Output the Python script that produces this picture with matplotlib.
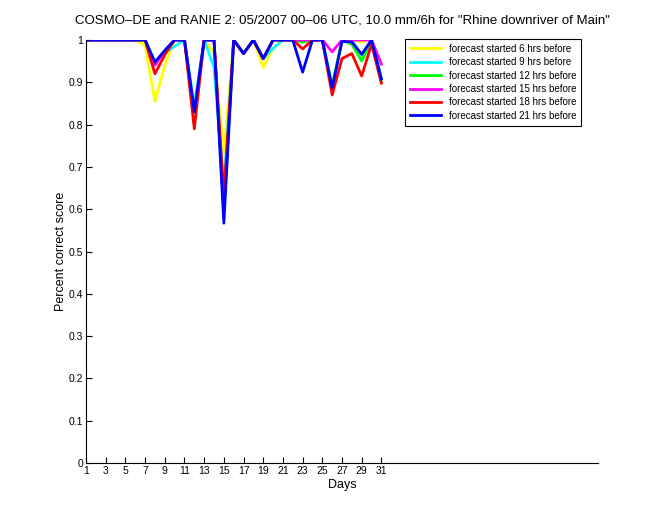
import matplotlib
matplotlib.use("Agg")
import matplotlib.pyplot as plt
import numpy as np

plt.rcParams['font.family'] = ['Liberation Sans', 'DejaVu Sans']

# ### data ### #
days = list(range(1, 32))
score_6h = [1, 1, 1, 1, 1, 1, 0.987, 0.855, 0.94, 1, 1, 0.83, 1, 0.97, 0.733, 1, 0.968, 1, 0.935, 0.98,
            1, 1, 1, 1, 1, 0.89, 1, 1, 0.995, 1, 0.91]
score_9h = [1, 1, 1, 1, 1, 1, 1, 0.945, 0.97, 0.985, 1, 0.845, 1, 0.935, 0.653, 1, 0.968, 1, 0.956, 0.98,
            1, 1, 1, 1, 1, 0.89, 1, 1, 0.965, 1, 0.91]
score_12h = [1, 1, 1, 1, 1, 1, 1, 0.945, 0.975, 1, 1, 0.83, 1, 1, 0.6, 1, 0.968, 1, 0.956, 1,
             1, 1, 0.995, 1, 1, 0.89, 1, 0.99, 0.95, 1, 0.9]
score_15h = [1, 1, 1, 1, 1, 1, 1, 0.94, 0.975, 1, 1, 0.83, 1, 1, 0.6, 1, 0.968, 1, 0.956, 1,
             1, 1, 1, 1, 1, 0.972, 1, 1, 1, 1, 0.943]
score_18h = [1, 1, 1, 1, 1, 1, 1, 0.92, 0.965, 1, 1, 0.79, 1, 1, 0.63, 1, 0.968, 1, 0.956, 1,
             1, 1, 0.979, 1, 1, 0.87, 0.956, 0.968, 0.915, 0.99, 0.898]
score_21h = [1, 1, 1, 1, 1, 1, 1, 0.948, 0.975, 1, 1, 0.83, 1, 1, 0.567, 1, 0.968, 1, 0.956, 1,
             1, 1, 0.924, 1, 1, 0.887, 0.997, 0.995, 0.966, 1, 0.908]

series = [score_6h, score_9h, score_12h, score_15h, score_18h, score_21h]
labels = ["forecast started 6 hrs before", "forecast started 9 hrs before",
          "forecast started 12 hrs before", "forecast started 15 hrs before",
          "forecast started 18 hrs before", "forecast started 21 hrs before"]
colors = ["#ffff00", "#00ffff", "#00ff00", "#ff00ff", "#ff0000", "#0000ff"]

fig = plt.figure(figsize=(6.6, 5.2), dpi=100)
ax = fig.add_axes([86 / 660, 1 - 463 / 520, (598 - 86) / 660, (463 - 40) / 520])

for vals, lab, col in zip(series, labels, colors):
    ax.plot(days, vals, color=col, linewidth=2.0, label=lab)

ax.set_xlim([1, 53])
ax.set_ylim([0, 1])
ax.set_xticks(range(1, 32, 2))
ax.set_yticks(np.arange(0, 1.01, 0.1))
ax.set_yticklabels(["0", "0.1", "0.2", "0.3", "0.4", "0.5", "0.6", "0.7", "0.8", "0.9", "1"])
ax.tick_params(direction='in', length=4, width=0.8, labelsize=7.5, pad=2)
ax.spines['top'].set_visible(False)
ax.spines['right'].set_visible(False)
ax.set_xlabel('Days', fontsize=9, labelpad=2)
ax.set_ylabel('Percent correct score', fontsize=9, labelpad=1)
ax.set_title('COSMO\u2013DE and RANIE 2: 05/2007 00\u201306 UTC, 10.0 mm/6h for "Rhine downriver of Main"',
             fontsize=9.5, pad=12)

leg = ax.legend(loc='upper left', bbox_to_anchor=(405 / 660, 1 - 39 / 520),
                bbox_transform=fig.transFigure, borderaxespad=0, fontsize=7,
                fancybox=False, framealpha=1, edgecolor='black', handlelength=3.2,
                labelspacing=0.35, borderpad=0.5)
leg.get_frame().set_linewidth(0.8)

fig.savefig('out.png', dpi=100)
